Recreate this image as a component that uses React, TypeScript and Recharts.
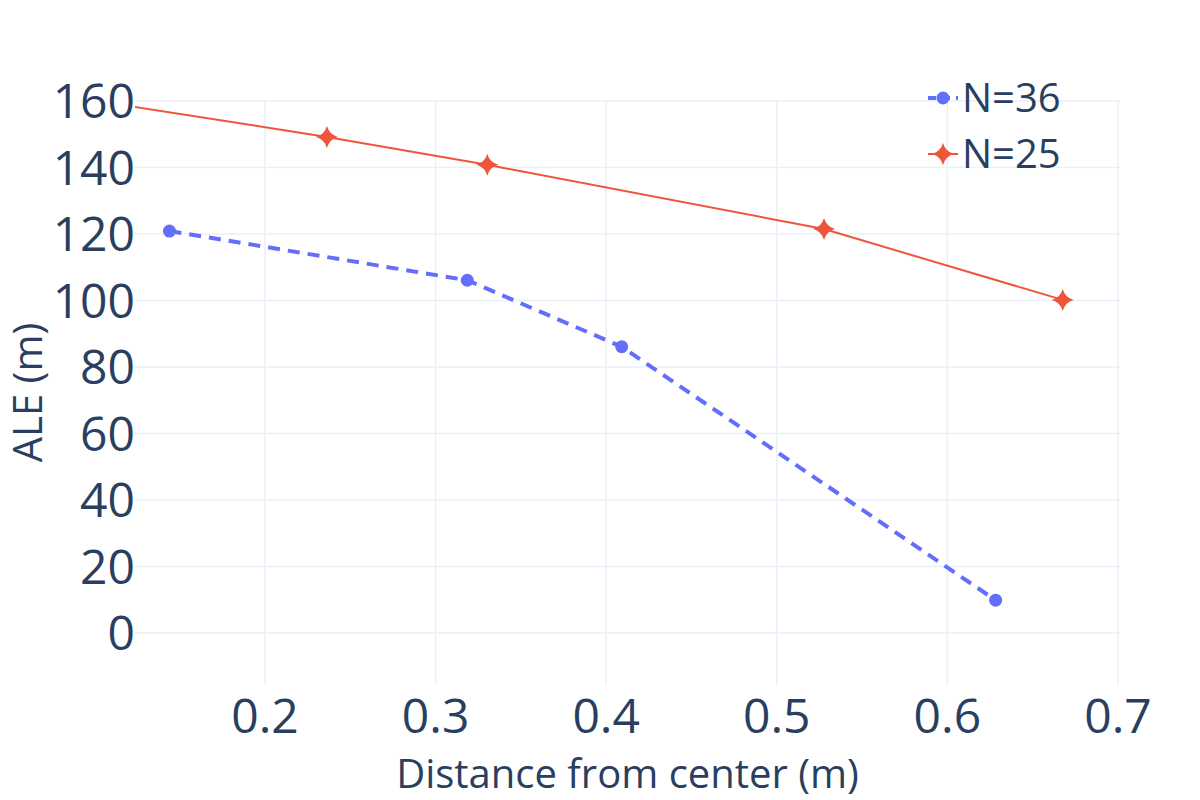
import { CartesianGrid, Line, LineChart, XAxis, YAxis } from "recharts"

// N=36 series (dashed, circle markers)
const n36Distance = [0.144, 0.3186, 0.4091, 0.6283]
const n36Ale = [120.9, 106.1, 86.1, 9.9]

// N=25 series (solid, star markers); first point sits left of the visible range
const n25Distance = [0.1, 0.2363, 0.3303, 0.5277, 0.6676]
const n25Ale = [160.1, 149.2, 140.8, 121.5, 100.2]

const xTicks = [0.2, 0.3, 0.4, 0.5, 0.6, 0.7]
const yTicks = [0, 20, 40, 60, 80, 100, 120, 140, 160]

const seriesNames = ["N=36", "N=25"]

const BLUE = "#636efa"
const RED = "#EF553B"
const TEXT = "#2a3f5f"
const GRID = "#EBF0F8"
const FONT = "'Open Sans', 'Noto Sans', sans-serif"

const n36Data = n36Distance.map((x, i) => ({ x, y: n36Ale[i] }))
const n25Data = n25Distance.map((x, i) => ({ x, y: n25Ale[i] }))

function starPath(cx: number, cy: number, r: number) {
  const k = r * 0.22
  return `M${cx},${cy - r} Q${cx + k},${cy - k} ${cx + r},${cy} Q${cx + k},${cy + k} ${cx},${cy + r} Q${cx - k},${cy + k} ${cx - r},${cy} Q${cx - k},${cy - k} ${cx},${cy - r} Z`
}

function StarDot(props: any) {
  const { cx, cy } = props
  if (cx == null || cy == null) return null
  return <path d={starPath(cx, cy, 11)} fill={RED} />
}

function CircleDot(props: any) {
  const { cx, cy } = props
  if (cx == null || cy == null) return null
  return <circle cx={cx} cy={cy} r={6.5} fill={BLUE} />
}

function LegendBox() {
  return (
    <svg width={200} height={130} style={{ position: "absolute", left: 920, top: 58, overflow: "visible" }}>
      <g>
        <line x1={8} y1={40} x2={38} y2={40} stroke={BLUE} strokeWidth={4} strokeDasharray="8 6" />
        <circle cx={23} cy={40} r={6.5} fill={BLUE} />
        <text x={42} y={54} fontSize={40} fill={TEXT} fontFamily={FONT}>{seriesNames[0]}</text>
      </g>
      <g>
        <line x1={8} y1={96} x2={38} y2={96} stroke={RED} strokeWidth={2} />
        <path d={starPath(23, 96, 11)} fill={RED} />
        <text x={42} y={110} fontSize={40} fill={TEXT} fontFamily={FONT}>{seriesNames[1]}</text>
      </g>
    </svg>
  )
}

function App() {
  document.body.style.margin = "0"
  return (
    <div style={{ position: "relative", width: 1200, height: 800, background: "#fff", fontFamily: FONT }}>
      <LineChart width={1200} height={800} margin={{ top: 100, right: 80, bottom: 0, left: 0 }}>
        <CartesianGrid stroke={GRID} strokeWidth={1.5} horizontalValues={yTicks} verticalValues={xTicks} />
        <XAxis
          type="number"
          dataKey="x"
          domain={[0.1238, 0.7012]}
          allowDataOverflow
          ticks={xTicks}
          tickFormatter={(v: number) => v.toFixed(1)}
          axisLine={false}
          tickLine={false}
          height={115}
          tick={{ fontSize: 48, fill: TEXT, fontFamily: FONT, dy: 6 }}
          label={{ value: "Distance from center (m)", position: "insideBottom", offset: 12, fontSize: 40, fill: TEXT, fontFamily: FONT }}
        />
        <YAxis
          type="number"
          dataKey="y"
          domain={[-15.6, 160.3]}
          allowDataOverflow
          ticks={yTicks}
          axisLine={false}
          tickLine={false}
          width={135}
          tick={{ fontSize: 48, fill: TEXT, fontFamily: FONT, dx: 8 }}
          label={{ value: "ALE (m)", angle: -90, position: "insideLeft", offset: 28, fontSize: 40, fill: TEXT, fontFamily: FONT, style: { textAnchor: "middle" } }}
        />
        <Line
          data={n36Data}
          dataKey="y"
          name={seriesNames[0]}
          stroke={BLUE}
          strokeWidth={4}
          strokeDasharray="12 8"
          dot={<CircleDot />}
          activeDot={false}
          isAnimationActive={false}
        />
        <Line
          data={n25Data}
          dataKey="y"
          name={seriesNames[1]}
          stroke={RED}
          strokeWidth={2}
          dot={<StarDot />}
          activeDot={false}
          isAnimationActive={false}
        />
      </LineChart>
      <LegendBox />
    </div>
  )
}

export default App
